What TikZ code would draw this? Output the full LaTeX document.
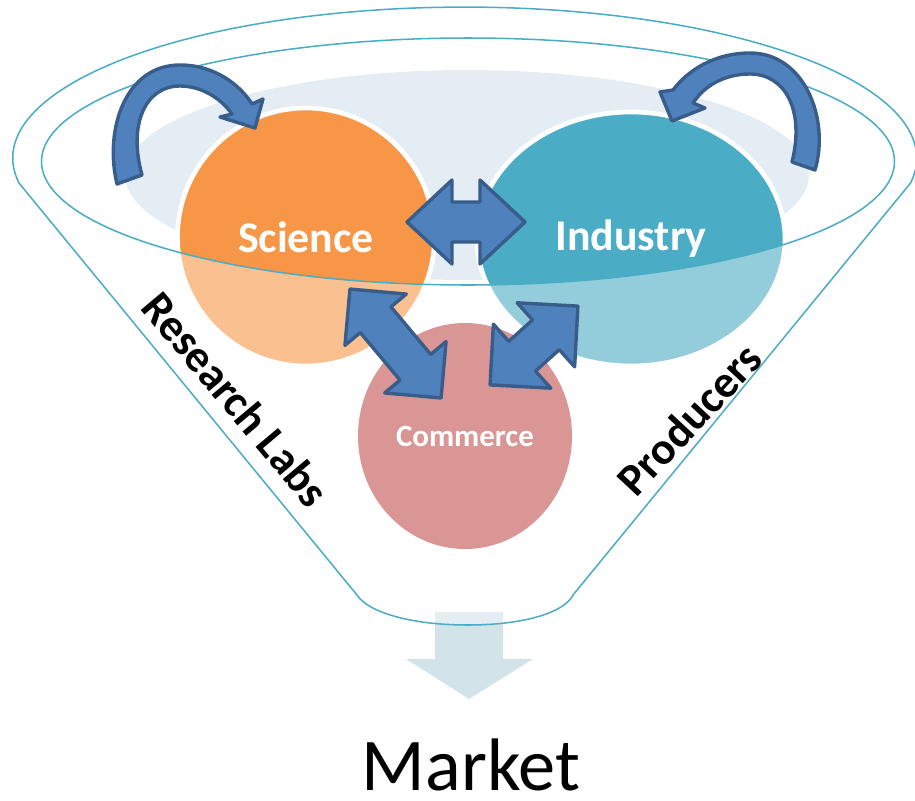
\documentclass[tikz,border=0pt]{standalone}
\usepackage{fontspec}
\setmainfont{Carlito}
\usepackage{tikz}
\usetikzlibrary{shapes.geometric}

\definecolor{sciorange}{HTML}{F79646}
\definecolor{indteal}{HTML}{4BACC6}
\definecolor{comred}{HTML}{C0504D}
\definecolor{funnelline}{HTML}{4BACC6}
\definecolor{rimfill}{HTML}{E4EDF3}
\definecolor{arrowfill}{HTML}{4F81BD}
\definecolor{arrowline}{HTML}{385D8A}
\definecolor{outfill}{HTML}{D2E3EA}

\begin{document}
\begin{tikzpicture}[x=0.03cm, y=-0.03cm,
  funnel/.style={draw=funnelline, line width=1.3pt},
  blob/.style={ellipse, inner sep=0pt, text=white, font=\bfseries\fontsize{37.4}{40}\selectfont},
  bluearrow/.style={fill=arrowfill, draw=arrowline, line width=2.9pt, line join=round},
  side/.style={inner sep=0pt, font=\bfseries\fontsize{38.6}{41}\selectfont}]
\useasboundingbox (0,0) rectangle (915,800);
% The rim and the circles
\fill[rimfill] (467,175) ellipse [x radius=342, y radius=105];
\node[blob, fill=sciorange, draw=white, line width=4pt, minimum width=7.71cm, minimum height=7.74cm] (science) at (306,237) {Science};
\node[blob, fill=indteal, draw=white, line width=4pt, minimum width=9.24cm, minimum height=7.62cm] (industry) at (631,239) {Industry};
\node[blob, fill=comred, minimum width=6.42cm, minimum height=6.78cm, font=\bfseries\fontsize{26.4}{28}\selectfont] (commerce) at (465,436) {Commerce};
% The outlet arrow
\fill[outfill] (435,612) -- (503,612) -- (503,659) -- (533,659) -- (469,699) -- (406,659) -- (435,659) -- cycle;
% The front of the funnel
\fill[white, fill opacity=0.4, even odd rule] (19,183) arc[start angle=170.5, end angle=369.5, x radius=452, y radius=151]
  -- (573,595) .. controls (565,612) and (525,625) .. (468,625) .. controls (410,625) and (368,612) .. (357,595) -- cycle
  (468,161.5) ellipse [x radius=426.5, y radius=123.5];
\draw[funnel] (19,183) arc[start angle=170.5, end angle=369.5, x radius=452, y radius=151]
  -- (573,595) .. controls (565,612) and (525,625) .. (468,625) .. controls (410,625) and (368,612) .. (357,595) -- cycle;
\draw[funnel] (468,161.5) ellipse [x radius=426.5, y radius=123.5];
% The labels
\node[side, rotate=-50] (research) at (236,399) {Research Labs};
\node[side, rotate=47] (producers) at (689,419) {Producers};
\node[anchor=base, inner sep=0pt, font=\fontsize{63.5}{66}\selectfont] (market) at (471,790) {Market};
% The curved arrows
\draw[bluearrow] (117,184) .. controls (104,130) and (125,65) .. (180,65) .. controls (215,65) and (240,85) .. (252,104)
  -- (263,99) -- (255,128) -- (220,117) -- (232,114) .. controls (220,97) and (200,86) .. (180,86)
  .. controls (145,86) and (128,125) .. (142,175) -- cycle;
\draw[bluearrow] (815,170) .. controls (830,120) and (805,53) .. (750,53) .. controls (715,53) and (688,70) .. (673,90)
  -- (660,92) -- (672,121) -- (705,108) -- (693,103) .. controls (705,85) and (725,74) .. (750,74)
  .. controls (785,74) and (805,110) .. (792,162) -- cycle;
% The double arrows
\foreach \cx/\cy/\ang/\len/\hd/\hw in {466/222/0/59/45/42, 395.5/343.5/-50.1/71/40/40, 534/345.5/41.9/59/43/43}
{
  \begin{scope}[shift={(\cx,\cy)}, rotate=\ang]
    \draw[bluearrow] (-\len,0) -- (-\len+\hd,-\hw) -- (-\len+\hd,-20) -- (\len-\hd,-20) -- (\len-\hd,-\hw)
      -- (\len,0) -- (\len-\hd,\hw) -- (\len-\hd,20) -- (-\len+\hd,20) -- (-\len+\hd,\hw) -- cycle;
  \end{scope}
}
\end{tikzpicture}
\end{document}
